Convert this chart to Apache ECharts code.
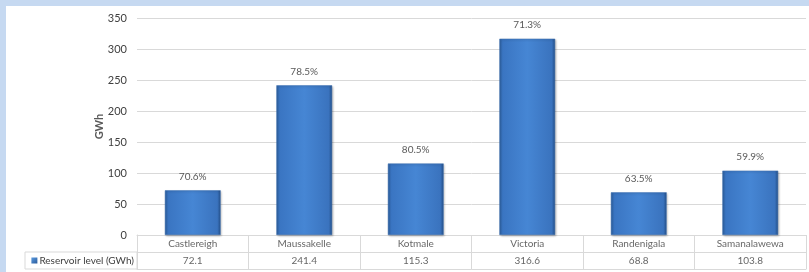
<!DOCTYPE html>
<html><head><meta charset="utf-8">
<script src="https://cdn.jsdelivr.net/npm/echarts@6/dist/echarts.min.js"></script>
<style>
html,body{margin:0;padding:0;background:#c6d9f1;width:809px;height:272px;overflow:hidden}
#c{position:absolute;left:6px;top:6px;width:803px;height:266px;background:#fff}
</style></head><body><div id="c"></div>
<script>
const categories = ['Castlereigh','Maussakelle','Kotmale','Victoria','Randenigala','Samanalawewa'];
const levels = [72.1, 241.4, 115.3, 316.6, 68.8, 103.8];
const percents = ['70.6%','78.5%','80.5%','71.3%','63.5%','59.9%'];
const yTicks = [0, 50, 100, 150, 200, 250, 300, 350];
const seriesName = 'Reservoir level (GWh)';

const FONT = 'Lato, "Open Sans", sans-serif';
const chart = echarts.init(document.getElementById('c'), null, {renderer:'canvas'});
const tableText = [];
categories.forEach((c,i)=>{
  tableText.push({value:[i,'cat'], txt:c});
  tableText.push({value:[i,'val'], txt:String(levels[i])});
});
chart.setOption({
  animation:false,
  textStyle:{fontFamily:FONT},
  grid:[
    {left:131, top:12, width:669, height:217},
    {left:131, top:229, width:669, height:34}
  ],
  xAxis:[
    {gridIndex:0, type:'category', data:categories, axisLabel:{show:false}, axisTick:{show:false},
     axisLine:{lineStyle:{color:'#d9d9d9'}}},
    {gridIndex:1, type:'category', data:categories, position:'bottom', axisLabel:{show:false}, axisTick:{show:false},
     axisLine:{show:true, lineStyle:{color:'#d9d9d9'}},
     splitLine:{show:true, lineStyle:{color:'#d9d9d9'}}}
  ],
  yAxis:[
    {gridIndex:0, type:'value', min:yTicks[0], max:yTicks[yTicks.length-1], interval:50,
     name:'GWh', nameLocation:'middle', nameGap:32, nameRotate:90, nameMoveOverlap:false,
     nameTextStyle:{color:'#595959', fontSize:11, fontWeight:'bold', fontFamily:FONT},
     axisLabel:{color:'#404040', fontSize:11, margin:10, fontFamily:FONT},
     axisLine:{show:false}, axisTick:{show:false},
     splitLine:{lineStyle:{color:'#d9d9d9'}}},
    {gridIndex:1, type:'category', data:['val','cat'], axisTick:{show:false},
     axisLine:{show:true, lineStyle:{color:'#d9d9d9'}},
     splitLine:{show:true, lineStyle:{color:'#d9d9d9'}},
     axisLabel:{margin:0, fontFamily:FONT,
       formatter:v=> v==='val' ? '{sq|}{t|'+seriesName+'}' : '',
       rich:{
         sq:{width:6, height:6, backgroundColor:{type:'linear',x:0,y:0,x2:1,y2:1,colorStops:[{offset:0,color:'#5b9be0'},{offset:1,color:'#2a5a9a'}]}, verticalAlign:'middle'},
         t:{fontSize:10, color:'#404040', padding:[0,0,0,2], fontFamily:FONT}
       },
       borderColor:'#d9d9d9', borderWidth:1, width:106, height:17, padding:[0,3,0,3], lineHeight:17, align:'right'
     }}
  ],
  series:[
    {type:'bar', xAxisIndex:0, yAxisIndex:0, data:levels, barWidth:'50%',
     itemStyle:{
       color:{type:'linear',x:0,y:0,x2:1,y2:0,colorStops:[
         {offset:0,color:'#2d5f9f'},{offset:0.06,color:'#3a75c2'},{offset:0.5,color:'#4686d4'},{offset:0.94,color:'#3a73be'},{offset:1,color:'#244f88'}]},
       borderColor:'#3c6fae', borderWidth:0.5, shadowColor:'rgba(0,0,0,0.25)', shadowBlur:2, shadowOffsetX:1, shadowOffsetY:1
     },
     label:{show:true, position:'top', distance:9, color:'#595959', fontSize:10, fontFamily:FONT,
       formatter:p=>percents[p.dataIndex]}},
    {type:'scatter', xAxisIndex:1, yAxisIndex:1, symbolSize:0, silent:true,
     data:tableText,
     label:{show:true, position:'inside', color:'#404040', fontSize:10, fontFamily:FONT,
       formatter:p=>p.data.txt}}
  ]
});
</script></body></html>
